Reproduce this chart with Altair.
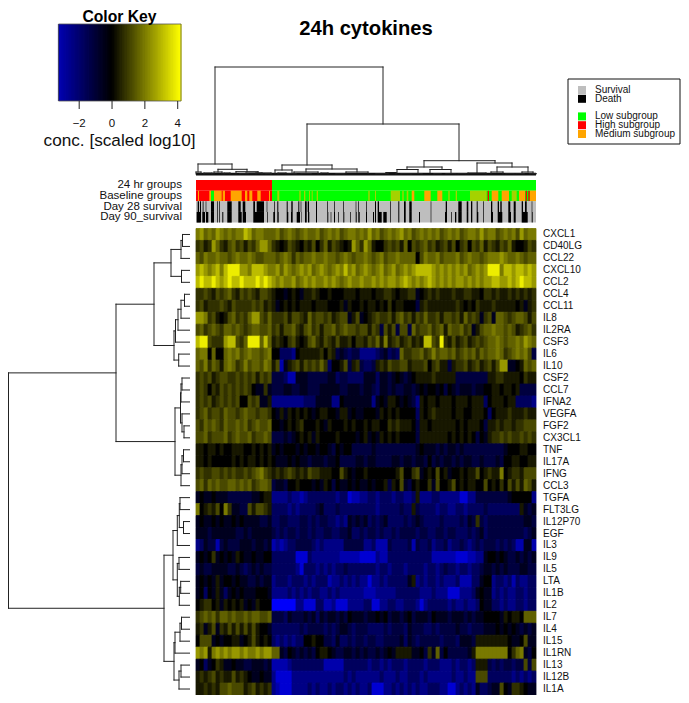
import altair as alt
import pandas as pd

FONT = "Liberation Sans"
ROWS = ["CXCL1","CD40LG","CCL22","CXCL10","CCL2","CCL4","CCL11","IL8","IL2RA","CSF3","IL6","IL10","CSF2","CCL7","IFNA2","VEGFA","FGF2","CX3CL1","TNF","IL17A","IFNG","CCL3","TGFA","FLT3LG","IL12P70","EGF","IL3","IL9","IL5","LTA","IL1B","IL2","IL7","IL4","IL15","IL1RN","IL13","IL12B","IL1A"]
LEVELS = [-3.2,-2.7,-2.2,-1.7,-1.2,-0.8,-0.4,0,0.4,0.8,1.2,1.6,2.0,2.5,3.1,3.9]

HEAT = [
"CDBCBDCBCBCCEDBCCBB BCABCBABCBBCABCBCABCCB CBDBCABCBCDBCABCBCBCAB CBCABCCBDBCCABCBCADBCC",
"9A89DB98AB9A8A9BDDB 9878A98798A79B8A9878DB 9DB8779A9A8B7A9AB9A89A 8A79A7A9B8A98A9B8778A9",
"BACBBCBBABCBBCBAABB BABCB9BABBCBBCBBABCBAB BCBABCABBCBBBB7ACBBCAB BBCABCBBABCCCDCBBCBABB",
"DEDCDECEFFFDDCEEEDC CDBDCBCDCDBCDCBCDCECDB CDCBCDBCDBCDCDEEEEDCDC DCDCDBCDCDFFFCEEDEEDED",
"EFEEFEDEFEEFEEEFEFE DCDCCDBCDCDCCDCDCBCDCC DCCDCDCDDCDEDCDCDEDCDC DCDDCDCDCDDEEDDEDEFEED",
"99A98A9AB98A9A98AA9 8776787688987787778887 8887889987889967898988 8988998879989889898989",
"9A8999A98A9999A9A89 8678787888788877786877 8788787978877758988888 8898787988898888878689",
"DDC9A878AB9A9BDDA9B 999A8AA98B9AA9A89AA68A 6789A99A8AB9A8A9B99A8A A9A8B9A969A6BBA9ABBA8A",
"AB9ABA9BBABA9ABBAAB 9A8AAB98AB9A8AAB9ABAA9 AA8A95A8A5AA5B9AAB9AB8 BAAB9A68ABBCBBABA89AB9",
"EFFA999DEEA9BFFFBEB 89879A878AB98A98A88979 98A9B8C89A89A898EEA9F9 8A89A89A9ABBCBABBCBDCB",
"BCC7B77BCBCABCBBABC 7744437888889798565455 3333456454B99AAB9ACABB AB9ABAB9BABBCB9ABCBCA5",
"BAC9BA8BCB9ACABBACB 8A2689A8A9A9B94778A589 5445898A99AA8999A79A88 5899A89A89A8ADD6678BAB",
"9A9A89AA99A9A9A8A9A 5554226665555566455444 4666466567656788889888 8855555555889988887988",
"9A9798A9A9A9A976696 5556655665556666655666 5665466565566567677675 7656665667788788785555",
"9A9A89A9A9A77A9A668 3333333344466663376666 6663676887676538788788 8788878884788878844443",
"9AB9AA9BAA9ABAA9AA9 7686878787678877688676 6777687878777748789888 8788778887478889888988",
"A9BABA9BAABAB9ABAAB 7767878977787687778787 7878877989888758878888 8878788875889899899AAA",
"AAB9AAAB9ABAAB9AABA 5556567878687777877776 7867687878777758888888 7878787576899A9A99A9A9",
"8878878778887787878 6767776767767765767755 5556555555555567666565 6656555555555567778877",
"8878777778787887878 7666767665666566755556 6566555566566566575656 6565665565556577887788",
"9A99AA9A9A99A9ABCA9 8989A9898A9988877A8767 7877777778A779A6787A78 6778788A78988C78998AAA",
"AB9BABAABBABAB9ABBA 5665778777676875766767 6676778587A65787796A77 8A7878877A78797A8A8BA8",
"6766766655555566788 3333433234444444344122 3344344434433483334433 3331133555555556777773",
"C7898A7C96655A8AA98 4444343444456444544444 4444344444544854444344 3344344445444444448656",
"6766767667676666556 4455444554545544343656 5645456444454565444454 4445465954555555555665",
"6665666666556566666 5454554554544554455644 5455454454555545544554 5544454564555555555456",
"3465525655566656656 2323445555434333335555 5334222544445254453445 3445434545554545422662",
"6767967676876676677 4444441114333333322222 1111322444444444442222 2211122336776765565656",
"5655666655654565655 4444443144434343445444 4444344344434444344345 4434434456656565556655",
"6767686776766556566 3444344434344423343434 3313343444446834344343 3342224467734434243344",
"6747686467676667776 3333434343443343433333 3222333334444443334333 1113334676634343344344",
"7899786878786768777 0000003311144223111333 3441133443344431344444 3433433476644343344344",
"9ABAB9BBABAABABBAAB 5554655565646566565766 6566767566567566657666 5666565667777687887BBB",
"8968A698A8A8A8A8776 4444444545555454566545 5544445455546555445455 5565545556667676765656",
"7AAA6767788678A8787 4343434477877554644545 5455445555646545555545 5546665888888887667A66",
"DCD8CDCDCDDCDCCDCDD BB65765656578876556656 5655656768888667596B57 5555568CCCCCCCC79BC657",
"6746798667665566656 2222344444444222224444 4434434344434444344433 3434434888545455455A5A",
"8989A8988A898766766 3111133333333333334343 3333343334334443433333 3433433AAA444444343434",
"889898AABAAA89A8989 3211133334343343443434 3341113343434343344433 1134343644566A76998766",
]

# Column annotations: spans along the 340-unit sample axis
RED_END = 76
BASE_ORANGE = [(2,3),(13.3,15),(18,25.7),(26.7,29),(34.7,45.7),(49,51.3),(53.3,56.3),(61.3,64.7),(73,74),(215.7,218.3),(228.3,234.7),(241.3,246.3),(295.7,302.3),(305.7,313),(323,329),(334,340)]
BASE_GREEN_IN_RED = [(15,18)]
BASE_MIX = [(81.3,83.3),(103.3,104.7),(108,109.3),(113,114),(115.7,116.7),(120.7,122),(172.3,173.7),(179,180),(194.7,204),(206.3,207.7),(210.7,212.3),(252.3,253.7),(259.7,261),(274,290.7),(315.7,320.7)]
BASE_RED_IN_GREEN = [(291.7,293),(329.7,331),(332.3,333.7)]
DAY28_DEATH = [(1.7,3),(4,5),(6.7,7.5),(9.7,10.3),(15,18),(21.3,22),(23,23.7),(31.3,35.7),(42.3,44.7),(46.7,49.3),(57.3,59),(60.7,68),(70.7,71.3),(78.3,79),(81.3,82.3),(90.7,91.7),(95.3,96.7),(102.3,103.3),(104.7,105.3),(109,110.7),(111.7,113),(120,121),(131.3,132),(138,138.7),(147.3,148),(159.7,160.3),(162.3,163),(170,170.7),(179,180),(181.7,183),(194,194.7),(202.3,203.3),(208,209.7),(213.3,215.7),(234.7,235.3),(249.7,251),(262.3,265.7),(270.7,272.3),(275,276.3),(280.7,281.7),(287.3,288),(295,296.3),(301.7,303),(304.3,305.7),(312.3,314.3),(317.7,319.7),(325.7,327),(329,330.7),(335.7,336.3)]
DAY90_DEATH = [(0.7,4),(4,5),(6.3,9),(10,12.3),(15,18),(21.3,22),(23,23.7),(26.3,27.3),(31.3,35.7),(42.3,45.7),(46.7,50),(57.3,68),(71.3,72),(77.3,79),(81.3,82.7),(90.7,92.3),(95,96.7),(100.7,104),(105,105.5),(109,110.7),(112,113.3),(120,121),(131.3,132.3),(134.7,135.3),(138,139),(142.3,143),(147.3,148.3),(154,154.7),(159.7,160.7),(162.3,163.7),(170,171),(177,178),(179,180),(181.7,185.7),(187.3,190.7),(194,194.7),(202.3,203.3),(208,209.7),(213.3,215.7),(223,224),(234.7,235.3),(249,251),(255,255.7),(259,260.3),(262.3,265.7),(270.7,272.3),(275,276.3),(280.7,282.3),(287.3,288),(295,297),(301.7,306.3),(312.3,315),(317.7,319.7),(325.7,331.7),(335.7,336.7)]
ANNOT_LABELS = ["24 hr groups","Baseline groups","Day 28 survival","Day 90_survival"]
LEGEND_ITEMS = [("Survival","#bebebe",0),("Death","#000000",1),("Low subgroup","#00ff00",3),("High subgroup","#ff0000",4),("Medium subgroup","#ffa500",5)]
KEY_TICKS = [(-2,"\u22122"),(0,"0"),(2,"2"),(4,"4")]

# Column dendrogram nodes: left pos, right pos, height, left child height, right child height
TOP_NODES = [(19,187,108,11,51),(2,36,11,3,5.7),(22,51,5.7,3,3.3),(40,62,3.3,1,2),(50,75,2,1,1),
(111,263,51,10,14.3),(86,136,10,5,6),(79,96,5,1.5,2),(110,161,6,3,3),(98,122,3,1,1),(150,172,3,1.5,1.5),
(228,299,14.3,8,12),(211,246,8,5.5,5.5),(201,222,5.5,2,2),(234,255,5.5,2,2),(281,316,12,2,8),(301,332,8,3,3),(295,307,3,1,1),(326,337,3,1,1),(272,290,2,1,1),
(0,5,3,1,1),(8,16,2,1,1),(18,26,3,1,1),(28,34,2,1,1),(44,52,1.5,1,1),(60,66,2,1,1),(70,75,1.5,1,1),(82,90,2,1,1),(92,100,1.5,1,1),(105,115,1.5,1,1),(125,132,2,1,1),(140,148,1.5,1,1),(180,192,1.5,1,1),(190,200,2.5,1,1),(205,215,1.5,1,1),(215,226,1.5,1,1),(238,245,1.5,1,1),(250,260,1.5,1,1),(262,270,1.5,1,1),(310,318,1.5,1,1),(320,328,1.5,1,1),(334,340,1.5,1,1)]

# Row dendrogram: (height, child, child), leaves are row indices
V = (18.5,(8.5,(7,0,1),2),(8,3,4))
W = (15.5,(14,(11.5,(8.5,(5,5,6),7),8),9),(10.8,10,11))
X = (14.5,(9,(8.5,(7.5,12,13),14),(7.5,15,(5.5,16,17))),(8.5,(7.5,(6,18,19),20),21))
P_ = (16.5,(12.2,(10.2,(9.5,22,23),(6,24,25)),26),(12.2,(10.5,27,28),(10.2,(8.8,29,30),31)))
Q_ = (15.5,(14.5,(9.5,(8,32,33),34),35),(10.5,(8.5,36,37),38))
TREE = (181,(73.5,(35.5,V,W),X),(25.5,P_,Q_))

# ---------- tables
heat = []
for r, row in enumerate(HEAT):
    for c, ch in enumerate(row.replace(" ", "")):
        heat.append({"x": c*4, "x2": (c+1)*4, "y": r, "y2": r+1, "v": LEVELS[int(ch, 16)]})
heat = pd.DataFrame(heat)

RED, GREEN, ORANGE, MIX, GREY, BLACK = "#ff0000", "#00ff00", "#ffa500", "#a5d200", "#bebebe", "#000000"
annot = []
def add(spans, row, col):
    for a, b in spans:
        annot.append({"x": a, "x2": b, "y": row, "y2": row+1, "c": col})
add([(0, RED_END)], 0, RED); add([(RED_END, 340)], 0, GREEN)
add([(0, RED_END)], 1, RED); add([(RED_END, 340)], 1, GREEN)
add(BASE_GREEN_IN_RED, 1, GREEN); add(BASE_ORANGE, 1, ORANGE); add(BASE_MIX, 1, MIX); add(BASE_RED_IN_GREEN, 1, RED)
add([(0, 340)], 2, GREY); add(DAY28_DEATH, 2, BLACK)
add([(0, 340)], 3, GREY); add(DAY90_DEATH, 3, BLACK)
annot = pd.DataFrame(annot)

top = []
for xl, xr, h, hl, hr in TOP_NODES:
    top += [dict(x=xl, x2=xr, y=h, y2=h), dict(x=xl, x2=xl, y=h, y2=hl), dict(x=xr, x2=xr, y=h, y2=hr)]
top = pd.DataFrame(top)

left = []
def walk(n):
    if isinstance(n, int):
        return n + 0.5, 0
    h, a, b = n
    pa, ha = walk(a); pb, hb = walk(b)
    left.append(dict(x=ha, x2=h, y=pa, y2=pa))
    left.append(dict(x=hb, x2=h, y=pb, y2=pb))
    left.append(dict(x=h, x2=h, y=pa, y2=pb))
    return (pa+pb)/2, h
walk(TREE)
left = pd.DataFrame(left)

key = pd.DataFrame([{"x": -3.26+i*0.1, "x2": min(-3.26+(i+1)*0.1, 4.2), "v": -3.26+(i+0.5)*0.1} for i in range(75)])

# ---------- scales (chart coordinates = page coordinates minus 8)
def lin(domain, rng):
    return alt.Scale(domain=domain, range=rng, nice=False, zero=False)
SX = lin([0, 340], [188, 528])
SY = lin([0, 39], [220.5, 687])
AY = lin([0, 4], [172, 214.6])
TY = lin([0, 108], [167, 59])
LX = lin([0, 181], [181.5, 0.5])
KX = lin([-3.26, 4.2], [50.5, 173])
LGY = lin([0, 5], [82, 126])
HEAT_C = alt.Scale(domain=[-3.26, 0, 4.2], range=["#0000ff", "#000000", "#ffff00"], interpolate="rgb")
KEY_C = alt.Scale(domain=[-3.26, 0, 4.2], range=["#0000b4", "#000000", "#ffff00"], interpolate="rgb")
DOT = alt.Data(values=[{"k": 1}])

def label(t, x, y, **kw):
    return alt.Chart(alt.Data(values=[{"t": t}])).mark_text(font=FONT, **kw).encode(
        x=alt.value(x-8), y=alt.value(y-8), text="t:N")

layers = []
# heatmap
layers.append(alt.Chart(heat).mark_rect(strokeWidth=0.8).encode(
    x=alt.X("x:Q", scale=SX, axis=None), x2="x2:Q",
    y=alt.Y("y:Q", scale=SY, axis=None), y2="y2:Q",
    color=alt.Color("v:Q", scale=HEAT_C, legend=None),
    stroke=alt.Stroke("v:Q", scale=HEAT_C, legend=None)))
# annotations
layers.append(alt.Chart(annot).mark_rect().encode(
    x=alt.X("x:Q", scale=SX, axis=None), x2="x2:Q",
    y=alt.Y("y:Q", scale=AY, axis=None), y2="y2:Q",
    color=alt.Color("c:N", scale=None)))
layers.append(alt.Chart(pd.DataFrame({"t": ANNOT_LABELS, "y": [0.5, 1.5, 2.5, 3.5]})).mark_text(
    font=FONT, fontSize=11.5, align="right", color="#111").encode(
    x=alt.value(174), y=alt.Y("y:Q", scale=AY, axis=None), text="t:N"))
# top dendrogram
layers.append(alt.Chart(pd.DataFrame({"x": [0], "x2": [340], "y": [0.9]})).mark_rule(color="#111", strokeWidth=2.6).encode(
    x=alt.X("x:Q", scale=SX, axis=None), x2="x2:Q", y=alt.Y("y:Q", scale=TY, axis=None)))
layers.append(alt.Chart(top).mark_rule(color="#222", strokeWidth=1, strokeCap="square").encode(
    x=alt.X("x:Q", scale=SX, axis=None), x2="x2:Q",
    y=alt.Y("y:Q", scale=TY, axis=None), y2="y2:Q"))
# left dendrogram
layers.append(alt.Chart(left).mark_rule(color="#222", strokeWidth=1, strokeCap="square").encode(
    x=alt.X("x:Q", scale=LX, axis=None), x2="x2:Q",
    y=alt.Y("y:Q", scale=SY, axis=None), y2="y2:Q"))
# row labels
layers.append(alt.Chart(pd.DataFrame({"t": ROWS, "y": [i+0.5 for i in range(len(ROWS))]})).mark_text(
    font=FONT, fontSize=10, align="left", color="#111").encode(
    x=alt.value(535), y=alt.Y("y:Q", scale=SY, axis=None), text="t:N"))
# colour key
layers.append(alt.Chart(key).mark_rect(strokeWidth=1.2).encode(
    x=alt.X("x:Q", scale=KX, axis=None), x2="x2:Q",
    y=alt.value(16.5), y2=alt.value(92.5),
    color=alt.Color("v:Q", scale=KEY_C, legend=None),
    stroke=alt.Stroke("v:Q", scale=KEY_C, legend=None)))
layers.append(alt.Chart(DOT).mark_rect(fill=None, stroke="#555", strokeWidth=0.8).encode(
    x=alt.value(50.5), x2=alt.value(173), y=alt.value(16), y2=alt.value(93)))
tick_df = pd.DataFrame({"v": [t[0] for t in KEY_TICKS], "t": [t[1] for t in KEY_TICKS]})
layers.append(alt.Chart(tick_df).mark_rule(color="#222", strokeWidth=1).encode(
    x=alt.X("v:Q", scale=KX, axis=None), y=alt.value(93), y2=alt.value(101)))
layers.append(alt.Chart(tick_df).mark_text(font=FONT, fontSize=11.5, color="#111").encode(
    x=alt.X("v:Q", scale=KX, axis=None), y=alt.value(115.5), text="t:N"))
layers.append(label("conc. [scaled log10]", 119.5, 141, fontSize=17.2, color="#111"))
layers.append(label("Color Key", 119.5, 16.5, fontSize=15.7, fontWeight="bold", color="#000"))
layers.append(label("24h cytokines", 366, 29, fontSize=20.2, fontWeight="bold", color="#000"))
# legend
layers.append(alt.Chart(DOT).mark_rect(fill="#ffffff", stroke="#111", strokeWidth=1).encode(
    x=alt.value(560), x2=alt.value(672), y=alt.value(71), y2=alt.value(136)))
leg = pd.DataFrame({"t": [i[0] for i in LEGEND_ITEMS], "c": [i[1] for i in LEGEND_ITEMS], "s": [i[2] for i in LEGEND_ITEMS]})
layers.append(alt.Chart(leg).mark_point(shape="square", filled=True, size=64, opacity=1).encode(
    x=alt.value(574), y=alt.Y("s:Q", scale=LGY, axis=None), color=alt.Color("c:N", scale=None)))
layers.append(alt.Chart(leg).mark_text(font=FONT, fontSize=10, align="left", color="#111").encode(
    x=alt.value(587), y=alt.Y("s:Q", scale=LGY, axis=None), text="t:N"))

chart = alt.layer(*layers).resolve_scale(x="independent", y="independent", color="independent", stroke="independent").properties(
    width=673, height=687, padding=0, autosize=alt.AutoSizeParams(type="none"), background="#ffffff"
).configure_view(stroke=None)

chart.save("out.html", embed_options={"renderer": "svg", "actions": False})
